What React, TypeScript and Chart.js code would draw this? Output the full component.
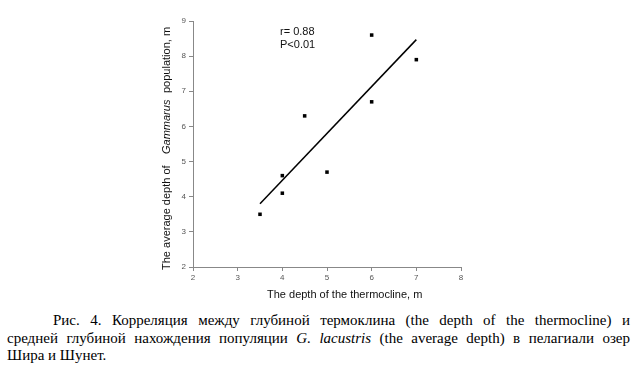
import React, { useEffect, useRef } from "react";
import { Chart, registerables } from "chart.js";

Chart.register(...registerables);

const thermoclineDepth = [3.5, 4, 4, 4.5, 5, 6, 6, 7];
const populationDepth = [3.5, 4.6, 4.1, 6.3, 4.7, 8.6, 6.7, 7.9];
const fitX = [3.5, 7];
const fitY = [3.8, 8.47];
const xTitle = "The depth of the thermocline, m";
const yTitleParts = ["The average depth of", "Gammarus", "population, m"];
const statLines = ["r= 0.88", "P<0.01"];

const SANS = "'Liberation Sans', Arial, sans-serif";

const titlesPlugin = {
  id: "titlesPlugin",
  afterDraw(chart: any) {
    const ctx = chart.ctx;
    ctx.save();
    ctx.fillStyle = "#111";
    ctx.textBaseline = "middle";
    ctx.font = `11px ${SANS}`;
    ctx.textAlign = "left";
    ctx.fillText(xTitle, 267, 295);
    ctx.fillText(statLines[0], 280, 32);
    ctx.fillText(statLines[1], 280, 45);
    ctx.translate(167, 0);
    ctx.rotate(-Math.PI / 2);
    ctx.textAlign = "left";
    ctx.font = `11px ${SANS}`;
    ctx.fillText(yTitleParts[0], -270, 0);
    ctx.font = `italic 11px ${SANS}`;
    ctx.fillText(yTitleParts[1], -154, 0);
    ctx.font = `11px ${SANS}`;
    ctx.fillText(yTitleParts[2], -93, 0);
    ctx.restore();
  },
};

const lineStyle: React.CSSProperties = {
  whiteSpace: "nowrap",
  textAlign: "justify",
  textAlignLast: "justify",
  height: 17.5,
};

export default function App() {
  const ref = useRef<HTMLCanvasElement>(null);
  useEffect(() => {
    if (!ref.current) return;
    const chart = new Chart(ref.current, {
      type: "scatter",
      data: {
        datasets: [
          {
            type: "line",
            data: fitX.map((x, i) => ({ x, y: fitY[i] })),
            borderColor: "#000",
            borderWidth: 1.5,
            pointRadius: 0,
            showLine: true,
            fill: false,
          } as any,
          {
            data: thermoclineDepth.map((x, i) => ({ x, y: populationDepth[i] })),
            backgroundColor: "#000",
            borderColor: "#000",
            pointStyle: "rect",
            pointRadius: 2.5,
            borderWidth: 0,
          },
        ],
      },
      options: {
        animation: false,
        responsive: false,
        maintainAspectRatio: false,
        layout: { padding: { left: 0, top: 21, right: 179, bottom: 0 } },
        plugins: { legend: { display: false }, tooltip: { enabled: false } },
        scales: {
          x: {
            type: "linear",
            min: 2,
            max: 8,
            afterFit: (s: any) => {
              s.height = 33;
            },
            ticks: {
              stepSize: 1,
              color: "#555",
              font: { size: 8, family: SANS },
              padding: 2,
            },
            grid: {
              drawOnChartArea: false,
              drawTicks: true,
              tickLength: 4,
              color: "#888",
            },
            border: { color: "#888" },
          },
          y: {
            type: "linear",
            min: 2,
            max: 9,
            afterFit: (s: any) => {
              s.width = 193;
            },
            ticks: {
              stepSize: 1,
              color: "#555",
              font: { size: 8, family: SANS },
              padding: 3,
            },
            grid: {
              drawOnChartArea: false,
              drawTicks: true,
              tickLength: 4,
              color: "#888",
            },
            border: { color: "#888" },
          },
        },
      },
      plugins: [titlesPlugin],
    });
    return () => chart.destroy();
  }, []);

  return (
    <div
      style={{
        position: "fixed",
        left: 0,
        top: 0,
        width: 640,
        height: 374,
        background: "#fff",
        overflow: "hidden",
      }}
    >
      <canvas
        ref={ref}
        width={640}
        height={300}
        style={{ position: "absolute", left: 0, top: 0, width: 640, height: 300 }}
      />
      <div
        style={{
          position: "absolute",
          left: 7,
          top: 312,
          width: 623,
          fontFamily: "'Liberation Serif', 'Times New Roman', serif",
          fontSize: 15,
          lineHeight: "17.5px",
          color: "#000",
        }}
      >
        <div style={{ ...lineStyle, paddingLeft: 46 }}>
          Рис. 4. Корреляция между глубиной термоклина (the depth of the thermocline) и
        </div>
        <div style={lineStyle}>
          средней глубиной нахождения популяции <i>G. lacustris</i> (the average depth) в пелагиали озер
        </div>
        <div style={{ whiteSpace: "nowrap", height: 17.5 }}>Шира и Шунет.</div>
      </div>
    </div>
  );
}
